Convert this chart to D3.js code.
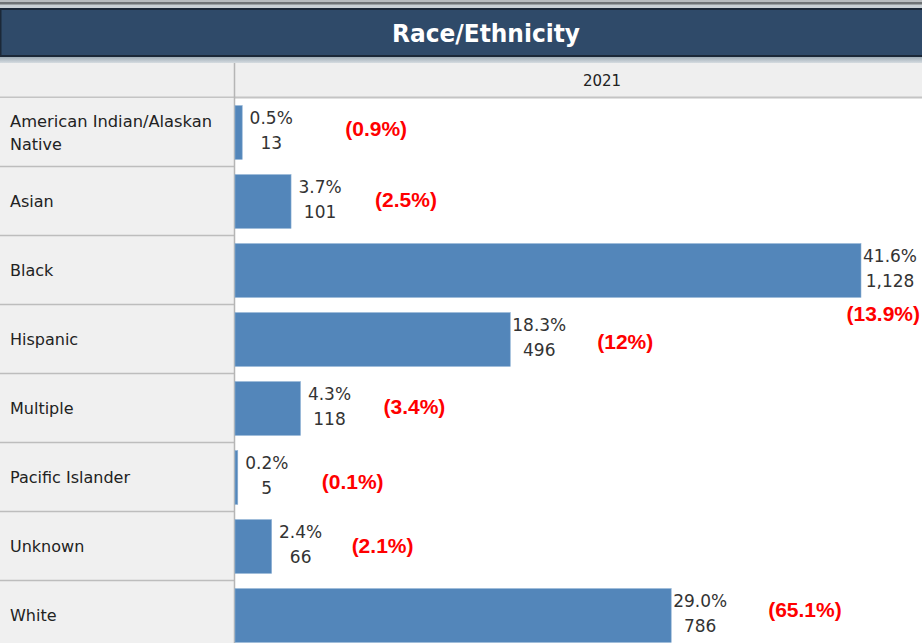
<!DOCTYPE html>
<html>
<head>
<meta charset="utf-8">
<script src="https://cdn.jsdelivr.net/npm/d3@7"></script>
<style>
  html, body { margin: 0; padding: 0; background: #ffffff; }
  svg { display: block; }
</style>
</head>
<body>
<svg id="chart" width="922" height="643"></svg>
<script>
// Enrollment by race/ethnicity, 2021
const categories = [
  ["American Indian/Alaskan", "Native"],
  ["Asian"],
  ["Black"],
  ["Hispanic"],
  ["Multiple"],
  ["Pacific Islander"],
  ["Unknown"],
  ["White"]
];
const counts = [13, 101, 1128, 496, 118, 5, 66, 786];
const shares = ["0.5%", "3.7%", "41.6%", "18.3%", "4.3%", "0.2%", "2.4%", "29.0%"];
const comparisonShares = ["(0.9%)", "(2.5%)", "(13.9%)", "(12%)", "(3.4%)", "(0.1%)", "(2.1%)", "(65.1%)"];
const yearLabel = "2021";
const title = "Race/Ethnicity";

// Hand-placed offsets for the red comparison notes (from bar end / row centre)
const noteOffsets = [
  { dx: 103, dy: -4, anchor: "start" },
  { dx: 84, dy: -2, anchor: "start" },
  { dx: null, dy: 43, anchor: "end" },
  { dx: 87, dy: 2, anchor: "start" },
  { dx: 83, dy: -2, anchor: "start" },
  { dx: 84, dy: 4, anchor: "start" },
  { dx: 80, dy: -1, anchor: "start" },
  { dx: 97, dy: -6, anchor: "start" }
];

const W = 922, H = 643;
const svg = d3.select("#chart");
const font = "'DejaVu Sans', Verdana, sans-serif";

// window chrome above the title bar
svg.append("rect").attr("x", 0).attr("y", 0).attr("width", W).attr("height", 8).attr("fill", "#c9d0d5");
svg.append("rect").attr("x", 0).attr("y", 0).attr("width", W).attr("height", 2).attr("fill", "#b8bcbf");
svg.append("rect").attr("x", 0).attr("y", 2).attr("width", W).attr("height", 2.5).attr("fill", "#6e7275");

// title bar
svg.append("rect").attr("x", 0).attr("y", 8).attr("width", W).attr("height", 49).attr("fill", "#1b2838");
svg.append("rect").attr("x", 1.5).attr("y", 10).attr("width", W - 1.5).attr("height", 45).attr("fill", "#2f4a69");
svg.append("text")
  .attr("x", 486).attr("y", 34)
  .attr("text-anchor", "middle").attr("dominant-baseline", "central")
  .attr("fill", "#ffffff").attr("font-family", font).attr("font-weight", "bold")
  .attr("font-size", 24).attr("textLength", 188).attr("lengthAdjust", "spacingAndGlyphs")
  .text(title);

// strip under the title
const strip = svg.append("defs").append("linearGradient").attr("id", "strip").attr("x1", 0).attr("x2", 0).attr("y1", 0).attr("y2", 1);
strip.append("stop").attr("offset", "0%").attr("stop-color", "#9fadb7");
strip.append("stop").attr("offset", "100%").attr("stop-color", "#d5dbe0");
svg.append("rect").attr("x", 0).attr("y", 57).attr("width", W).attr("height", 6).attr("fill", "url(#strip)");

// table frame
const headerTop = 63, headerBottom = 97;
const rowTop = 98, rowH = 69;
const colX = 234;

svg.append("rect").attr("x", 0).attr("y", headerTop).attr("width", W).attr("height", headerBottom - headerTop).attr("fill", "#efefef");
svg.append("line").attr("x1", 0).attr("x2", W).attr("y1", headerBottom + 0.5).attr("y2", headerBottom + 0.5).attr("stroke", "#c4c4c4").attr("stroke-width", 2);
svg.append("text")
  .attr("x", 602).attr("y", (headerTop + headerBottom) / 2 + 1)
  .attr("text-anchor", "middle").attr("dominant-baseline", "central")
  .attr("fill", "#222").attr("font-family", font).attr("font-size", 15)
  .text(yearLabel);

// left label column
svg.append("rect").attr("x", 0).attr("y", rowTop).attr("width", colX).attr("height", H - rowTop).attr("fill", "#f0f0f0");

const y = d3.scaleBand()
  .domain(d3.range(categories.length))
  .range([rowTop, rowTop + rowH * categories.length])
  .paddingInner(0.22).paddingOuter(0.11);

const x = d3.scaleLinear()
  .domain([0, d3.max(counts)])
  .range([colX + 1, 861]);

// row separators in the label column
svg.append("g").selectAll("line")
  .data(d3.range(1, categories.length))
  .join("line")
  .attr("x1", 0).attr("x2", colX)
  .attr("y1", i => rowTop + i * rowH - 0.5).attr("y2", i => rowTop + i * rowH - 0.5)
  .attr("stroke", "#bdbdbd").attr("stroke-width", 1.5);

// column divider
svg.append("line").attr("x1", colX + 0.5).attr("x2", colX + 0.5).attr("y1", headerTop).attr("y2", H)
  .attr("stroke", "#b5b5b5").attr("stroke-width", 1.5);

// category labels
const labels = svg.append("g").selectAll("text")
  .data(categories)
  .join("text")
  .attr("font-family", font).attr("font-size", 16).attr("fill", "#222")
  .attr("x", 10)
  .attr("y", (d, i) => rowTop + i * rowH + rowH / 2 - (d.length - 1) * 11.5);
labels.selectAll("tspan")
  .data(d => d)
  .join("tspan")
  .attr("x", 10)
  .attr("dy", (d, j) => j === 0 ? "0.35em" : 23)
  .attr("textLength", d => d.length > 20 ? 202 : null)
  .attr("lengthAdjust", "spacingAndGlyphs")
  .text(d => d);

// bars
svg.append("g").selectAll("rect")
  .data(counts)
  .join("rect")
  .attr("x", x(0))
  .attr("y", (d, i) => y(i))
  .attr("width", d => Math.max(1.5, x(d) - x(0)))
  .attr("height", y.bandwidth())
  .attr("fill", "#5386ba")
  .attr("stroke", "#8fb2d4").attr("stroke-width", 0.6);

// value labels: share and count stacked
const valueG = svg.append("g").selectAll("g")
  .data(counts)
  .join("g")
  .attr("transform", (d, i) => `translate(${x(d) + 29},${y(i) + y.bandwidth() / 2})`);
valueG.append("text")
  .attr("text-anchor", "middle").attr("dy", "-0.35em").attr("y", -3)
  .attr("font-family", font).attr("font-size", 17).attr("fill", "#333")
  .text((d, i) => shares[i]);
valueG.append("text")
  .attr("text-anchor", "middle").attr("dy", "0.35em").attr("y", 11)
  .attr("font-family", font).attr("font-size", 17).attr("fill", "#333")
  .text(d => d3.format(",")(d));

// red comparison notes
svg.append("g").selectAll("text")
  .data(comparisonShares)
  .join("text")
  .attr("x", (d, i) => noteOffsets[i].dx === null ? 920 : x(counts[i]) + noteOffsets[i].dx)
  .attr("y", (d, i) => rowTop + i * rowH + rowH / 2 + noteOffsets[i].dy)
  .attr("text-anchor", (d, i) => noteOffsets[i].anchor)
  .attr("dominant-baseline", "central")
  .attr("font-family", "'Liberation Sans', Arial, sans-serif")
  .attr("font-weight", "bold").attr("font-size", 21).attr("fill", "#ff0000")
  .text(d => d);
</script>
</body>
</html>
